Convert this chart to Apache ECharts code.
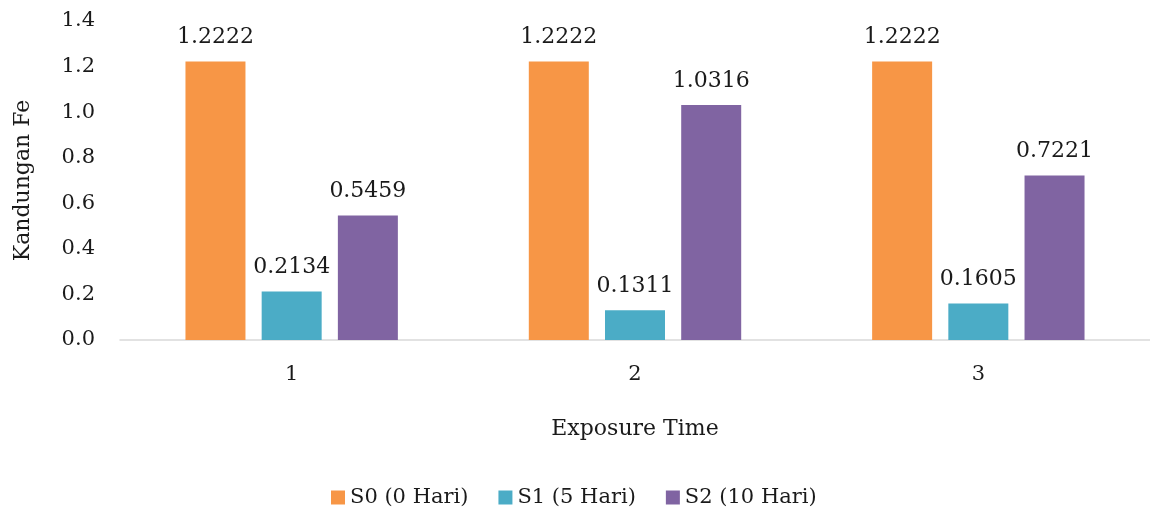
<!DOCTYPE html>
<html>
<head>
<meta charset="utf-8">
<script src="https://cdn.jsdelivr.net/npm/echarts@6/dist/echarts.min.js"></script>
<style>html,body{margin:0;padding:0;background:#fff}#c{width:1150px;height:510px}</style>
</head>
<body>
<div id="c"></div>
<script>
var categories = ['1', '2', '3'];
var seriesNames = ['S0 (0 Hari)', 'S1 (5 Hari)', 'S2 (10 Hari)'];
var s0 = [1.2222, 1.2222, 1.2222];
var s1 = [0.2134, 0.1311, 0.1605];
var s2 = [0.5459, 1.0316, 0.7221];
var colors = ['#F79646', '#4BACC6', '#8064A2'];
var FONT = 'DejaVu Serif';
var TXT = '#1a1a1a';

var chart = echarts.init(document.getElementById('c'), null, {renderer: 'canvas'});
function mk(name, data, color) {
  return {
    name: name, type: 'bar', data: data, barWidth: 60, barGap: '27%',
    itemStyle: {color: color},
    label: {show: true, position: 'top', distance: 13, color: TXT, fontFamily: FONT, fontSize: 22,
      formatter: function (p) { return p.value.toFixed(4); }}
  };
}
chart.setOption({
  animation: false,
  grid: {left: 120, right: -5, top: 21, bottom: 170, containLabel: false},
  legend: {
    data: seriesNames, left: 326, top: 482, icon: 'rect', itemWidth: 14, itemHeight: 14, itemGap: 30,
    textStyle: {fontFamily: FONT, fontSize: 21, color: TXT}
  },
  xAxis: {
    type: 'category', data: categories,
    name: 'Exposure Time', nameLocation: 'middle', nameGap: 78,
    nameTextStyle: {fontFamily: FONT, fontSize: 22, color: TXT},
    axisLine: {lineStyle: {color: '#d9d9d9', width: 1.5}},
    axisTick: {show: false},
    axisLabel: {fontFamily: FONT, fontSize: 21, color: TXT, margin: 24}
  },
  yAxis: {
    type: 'value', min: 0, max: 1.4, interval: 0.2,
    name: 'Kandungan Fe', nameLocation: 'middle', nameGap: 86, nameRotate: 90,
    nameTextStyle: {fontFamily: FONT, fontSize: 22, color: TXT},
    axisLine: {show: false}, axisTick: {show: false}, splitLine: {show: false},
    axisLabel: {fontFamily: FONT, fontSize: 21, color: TXT, margin: 25,
      formatter: function (v) { return v.toFixed(1); }}
  },
  series: [mk(seriesNames[0], s0, colors[0]), mk(seriesNames[1], s1, colors[1]), mk(seriesNames[2], s2, colors[2])]
});
</script>
</body>
</html>
